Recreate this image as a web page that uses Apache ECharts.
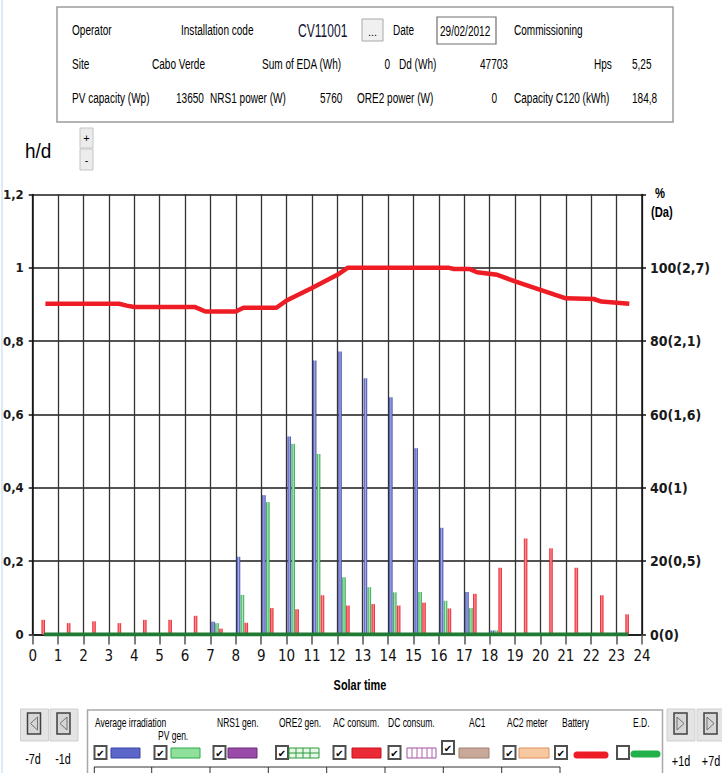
<!DOCTYPE html>
<html><head><meta charset="utf-8">
<script src="https://cdn.jsdelivr.net/npm/echarts@6/dist/echarts.min.js"></script>
<style>html,body{margin:0;padding:0;background:#fff;overflow:hidden}#c{width:722px;height:773px}</style>
</head><body><div id="c"></div>
<script>
// ---------- data ----------
const hours = [0,1,2,3,4,5,6,7,8,9,10,11,12,13,14,15,16,17,18,19,20,21,22,23];
const avgIrradiation = [0,0,0,0,0,0,0,0.035,0.212,0.38,0.54,0.747,0.772,0.699,0.647,0.508,0.291,0.116,0.011,0,0,0,0,0];
const pvGen          = [0,0,0,0,0,0,0,0.031,0.108,0.361,0.52,0.492,0.156,0.129,0.115,0.116,0.092,0.072,0.011,0,0,0,0,0];
const acConsum       = [0.04,0.031,0.036,0.031,0.04,0.04,0.051,0.016,0.032,0.072,0.069,0.107,0.079,0.083,0.079,0.087,0.071,0.111,0.182,0.262,0.235,0.182,0.107,0.055];
const battHour = [0.5,3.4,3.7,4.0,6.4,6.8,8.0,8.3,9.6,10,11,12,12.4,16.4,16.6,17.2,17.5,18.3,19,20,21,22.1,22.4,23.5];
const battPct  = [90.2,90.2,89.7,89.3,89.3,88.1,88.1,89.1,89.1,91.1,94.5,98.1,100,100,99.7,99.7,98.8,98.1,96.3,94,91.7,91.5,90.8,90.2];
const baseHour = [0.45,23.45];
const baseVal  = [0,0];
const rightTickLabels = {0:'0(0)',20:'20(0,5)',40:'40(1)',60:'60(1,6)',80:'80(2,1)',100:'100(2,7)',120:''};

// ---------- helpers ----------
const SANS = "'Liberation Sans',Arial,sans-serif";
const COND = "'DejaVu Sans Condensed','DejaVu Sans',sans-serif";
function T(x,y,text,o){o=o||{};return {type:'text',x:x,y:y,z:50,scaleX:o.sx||1,style:{text:text,fontSize:o.size||14,fontFamily:o.family||SANS,fontWeight:o.weight||'normal',fill:o.color||'#000',textAlign:o.align||'left',textVerticalAlign:o.valign||'middle'}};}
function R(x,y,w,h,fill,stroke,lw,r){return {type:'rect',z:40,shape:{x:x,y:y,width:w,height:h,r:r||0},style:{fill:fill,stroke:stroke||null,lineWidth:lw||1}};}
function L(x1,y1,x2,y2,stroke,lw,cap){return {type:'line',z:45,shape:{x1:x1,y1:y1,x2:x2,y2:y2},style:{stroke:stroke,lineWidth:lw||1,lineCap:cap||'butt'}};}
function PG(points,stroke,lw,fill){return {type:'polygon',z:46,shape:{points:points},style:{stroke:stroke,lineWidth:lw||1,fill:fill||'none'}};}
function grad(dark,light){return new echarts.graphic.LinearGradient(0,0,1,0,[{offset:0,color:dark},{offset:0.5,color:light},{offset:1,color:dark}]);}
function checkbox(x,y,checked){const a=[R(x,y,12,13,'#fff','#505050',2)];if(checked)a.push(T(x+6,y+7,'\u2714',{size:10,family:'DejaVu Sans',align:'center',weight:'bold'}));return a;}
function navBtn(x,y,w,dir){const a=[R(x,y,w,32,'#e4e4e4','#cfcfcf',1),R(x+7,y+4,13,21,'#d6d6d6','#404040',1.5)];
  const ix=x+7, iy=y+4;
  if(dir>0)a.push(PG([[ix+3,iy+4],[ix+10,iy+10.5],[ix+3,iy+17]],'#707070',1));
  else a.push(PG([[ix+10,iy+4],[ix+3,iy+10.5],[ix+10,iy+17]],'#707070',1));
  return a;}
const P = {size:15, sx:0.67};       // info panel text
const LG = {size:13.5, sx:0.63};    // legend text

const G = [];
// window edge
G.push(L(2,0,2,773,'#d3e3f3',1.5));
// top info panel
G.push(R(57,7,616,115,'#fff','#9c9c9c',1.5));
G.push(T(72,30,'Operator',P),T(181,30,'Installation code',P),T(298,31,'CV11001',{size:18,sx:0.67,color:'#101030'}));
G.push(R(362,19,21,22,'#f0f0f0','#a8a8a8',1),T(372.5,32,'...',{align:'center',size:11}));
G.push(T(393,30,'Date',P),R(437,17,59,27,'#fff','#707070',1.2),T(440,31,'29/02/2012',P));
G.push(T(514,30,'Commissioning',P));
G.push(T(72,64,'Site',P),T(152,64,'Cabo Verde',P),T(262,64,'Sum of EDA (Wh)',P),T(390,64,'0',Object.assign({align:'right'},P)),T(399,64,'Dd (Wh)',P),T(480,64,'47703',P),T(594,64,'Hps',P),T(632,64,'5,25',P));
G.push(T(72,98,'PV capacity (Wp)',P),T(176,98,'13650',P),T(210,98,'NRS1 power (W)',P),T(320,98,'5760',P),T(357,98,'ORE2 power (W)',P),T(497,98,'0',Object.assign({align:'right'},P)),T(514,98,'Capacity C120 (kWh)',P),T(632,98,'184,8',P));
// h/d and +/- buttons
G.push(T(25,151,'h/d',{size:20,sx:0.95}));
G.push(R(80,128,13,20,'#ececec','#c4c4c4',1),T(86.5,138,'+',{align:'center',size:11}));
G.push(R(80,149,13,21,'#ececec','#c4c4c4',1),T(86.5,160,'-',{align:'center',size:11}));
// right axis header
G.push(T(655,194,'%',{size:14,weight:'bold',sx:0.8}),T(651,213,'(Da)',{size:14,weight:'bold',sx:0.8}));
// x axis name
G.push(T(360,686,'Solar time',{size:14,weight:'bold',align:'center',sx:0.78}));
// nav buttons
navBtn(20.5,709,28,-1).forEach(e=>G.push(e));
navBtn(50,709,28,-1).forEach(e=>G.push(e));
navBtn(667,709,28,1).forEach(e=>G.push(e));
navBtn(697,709,26,1).forEach(e=>G.push(e));
const NB = {align:'center',size:15,sx:0.72};
G.push(T(33,759,'-7d',NB),T(63,759,'-1d',NB),T(681,761,'+1d',NB),T(711,761,'+7d',NB));
// legend panel
G.push(R(87.5,710,575,80,'#fff','#a8a8a8',1.5));
G.push(T(95,722,'Average irradiation',LG),T(158,735,'PV gen.',LG),T(217,722,'NRS1 gen.',LG),T(279,722,'ORE2 gen.',LG),T(333,722,'AC consum.',LG),T(388,722,'DC consum.',LG),T(469,722,'AC1',LG),T(507,722,'AC2 meter',LG),T(562,722,'Battery',LG),T(633,722,'E.D.',LG));
[[94.5,746,1],[154.5,746,1],[213.5,746,1],[276,746,1],[333.5,746,1],[388.5,746,1],[442,741,1],[503.5,746,1],[555,746,1],[617,746,0]].forEach(c=>checkbox(c[0],c[1],c[2]).forEach(e=>G.push(e)));
G.push(R(111,748,29,10,'#5b66c8','#3a44a8',1));
G.push(R(171,748,29,10,'#8fe09a','#2aa84a',1));
G.push(R(228,748,29,10,'#9a4aa8','#6a2a7a',1));
G.push(R(289,748,30,10,'#e8f8e8','#2a9a3a',1));
[296,303,310].forEach(x=>G.push(L(x,748,x,758,'#2a9a3a',1)));
G.push(L(289,753,319,753,'#2a9a3a',1));
G.push(R(352,748,29,10,'#ec2a36','#c81020',1));
G.push(R(407,748,29,10,'#fff','#a050a0',1));
[412,417,422,427,432].forEach(x=>G.push(L(x,748,x,758,'#b060b0',1)));
G.push(R(459,748,30,10,'#c8a898','#a08070',1));
G.push(R(519,748,30,10,'#f8c8a0','#e09060',1));
G.push(L(577,755,605,755,'#ee1c24',7,'round'));
G.push(L(634,754,657,754,'#22b04a',7,'round'));
G.push(L(94,767,560,767,'#303030',1));
[94.3,151.7,210,268.3,326.7,385,443.3,501.7,560].forEach(x=>G.push(L(x,767,x,773,'#303030',1)));

// ---------- chart ----------
const chart = echarts.init(document.getElementById('c'), null, {renderer:'svg'});
const BAR_OFFSET = 0.26;
function barData(vals){return hours.map((h,i)=>[h+BAR_OFFSET, vals[i]]);}
const fmtLeft = v => String(+v.toFixed(1)).replace('.',',');
chart.setOption({
  animation:false,
  backgroundColor:'#fff',
  grid:{left:32,right:80,top:194.5,bottom:138.5,containLabel:false},
  xAxis:{type:'value',min:0,max:24,interval:1,
    axisLine:{show:true,onZero:false,lineStyle:{color:'#111',width:1.5}},
    axisTick:{show:true,length:10,lineStyle:{color:'#555',width:1.5}},
    axisLabel:{margin:14,fontSize:15,fontFamily:COND,color:'#111',showMinLabel:true,showMaxLabel:true,hideOverlap:false},
    splitLine:{show:true,lineStyle:{color:'#333',width:1.3}}},
  yAxis:[
    {type:'value',min:0,max:1.2,interval:0.2,position:'left',
      axisLine:{show:true,lineStyle:{color:'#111',width:1.5}},
      axisTick:{show:true,length:4,lineStyle:{color:'#111',width:1.5}},
      axisLabel:{margin:9,fontSize:13,fontWeight:'bold',fontFamily:COND,color:'#1a1a1a',formatter:fmtLeft,showMinLabel:true,showMaxLabel:true},
      splitLine:{show:true,lineStyle:{color:'#1a1a1a',width:1.5}}},
    {type:'value',min:0,max:120,interval:20,position:'right',
      axisLine:{show:true,lineStyle:{color:'#111',width:1.5}},
      axisTick:{show:true,length:4,lineStyle:{color:'#111',width:1.5}},
      axisLabel:{margin:8,fontSize:14,fontWeight:'bold',fontFamily:COND,color:'#1a1a1a',formatter:v=>rightTickLabels[Math.round(v)]||'',showMinLabel:true,showMaxLabel:true},
      splitLine:{show:false}}
  ],
  series:[
    {name:'Average irradiation',type:'bar',barWidth:3.5,barGap:'12%',data:barData(avgIrradiation),
      itemStyle:{color:grad('#343ea0','#a4acea')},z:2},
    {name:'PV gen.',type:'bar',barWidth:3.5,barGap:'12%',data:barData(pvGen),
      itemStyle:{color:grad('#18983c','#b0ecb8')},z:2},
    {name:'AC consum.',type:'bar',barWidth:3.5,barGap:'12%',data:barData(acConsum),
      itemStyle:{color:grad('#e4101c','#ff9098')},z:2},
    {name:'E.D.',type:'line',data:baseHour.map((h,i)=>[h,baseVal[i]]),showSymbol:false,
      lineStyle:{color:'#1f7a34',width:4},z:4},
    {name:'Battery',type:'line',yAxisIndex:1,data:battHour.map((h,i)=>[h,battPct[i]]),showSymbol:false,
      lineStyle:{color:'#ee1c24',width:4.5},z:5}
  ],
  graphic:{elements:G}
});
</script></body></html>
